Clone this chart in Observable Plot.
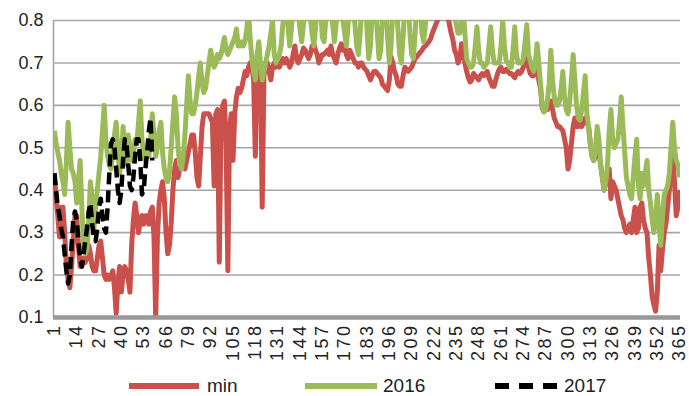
<!DOCTYPE html>
<html><head><meta charset="utf-8">
<script src="https://cdn.jsdelivr.net/npm/d3@7"></script>
<script src="https://cdn.jsdelivr.net/npm/@observablehq/plot@0.6"></script>
<style>
body{margin:0;background:#fff;font-family:"Liberation Sans",Arial,sans-serif;}
#chart{position:relative;width:689px;height:396px;overflow:hidden;background:#fff;}
#legend{position:absolute;left:0;top:374px;width:689px;height:24px;}
#legend .it{position:absolute;top:0;height:24px;display:flex;align-items:center;}
#legend .lab{position:absolute;top:0;line-height:24px;font-size:19px;color:#222;}
g[aria-label="x-axis tick label"] text{letter-spacing:2.5px;}
</style></head><body>
<div id="chart"><div id="legend"></div></div>
<script>
// Categories: day of year 1..365
const days = d3.range(1, 366);
const xTickLabels = [1,14,27,40,53,66,79,92,105,118,131,144,157,170,183,196,209,222,235,248,261,274,287,300,313,326,339,352,365];
const yTickLabels = [0.1,0.2,0.3,0.4,0.5,0.6,0.7,0.8];
const seriesNames = ["min","2016","2017"];
const seriesColors = ["#c9504b","#9bbb59","#000000"];

const minValues = [
0.44,0.38,0.34,0.29,0.36,0.36,0.30,0.22,0.19,0.17,
0.22,0.28,0.34,0.34,0.27,0.22,0.22,0.24,0.23,0.24,
0.27,0.25,0.22,0.21,0.21,0.24,0.27,0.28,0.24,0.20,
0.19,0.20,0.19,0.20,0.21,0.17,0.11,0.18,0.22,0.16,
0.20,0.22,0.21,0.19,0.16,0.27,0.33,0.37,0.34,0.30,
0.33,0.34,0.32,0.34,0.34,0.32,0.35,0.36,0.29,0.10,
0.29,0.37,0.40,0.42,0.38,0.30,0.25,0.27,0.32,0.40,
0.45,0.47,0.43,0.45,0.46,0.47,0.45,0.47,0.49,0.51,
0.53,0.53,0.49,0.43,0.41,0.48,0.55,0.58,0.58,0.58,
0.58,0.57,0.56,0.41,0.58,0.59,0.23,0.55,0.60,0.61,
0.50,0.21,0.55,0.58,0.47,0.58,0.62,0.64,0.63,0.64,
0.66,0.68,0.67,0.69,0.70,0.69,0.66,0.48,0.69,0.70,
0.70,0.36,0.67,0.70,0.70,0.68,0.66,0.69,0.70,0.69,
0.70,0.69,0.70,0.71,0.70,0.71,0.70,0.69,0.70,0.72,
0.74,0.71,0.70,0.71,0.72,0.735,0.73,0.72,0.71,0.72,
0.74,0.745,0.73,0.72,0.70,0.71,0.72,0.72,0.725,0.73,
0.72,0.74,0.72,0.71,0.70,0.72,0.735,0.745,0.73,0.74,
0.72,0.71,0.73,0.72,0.71,0.70,0.70,0.69,0.70,0.70,
0.69,0.685,0.68,0.67,0.66,0.67,0.68,0.68,0.675,0.67,
0.665,0.65,0.645,0.64,0.635,0.66,0.715,0.70,0.68,0.67,
0.65,0.645,0.645,0.67,0.69,0.685,0.68,0.685,0.69,0.70,
0.71,0.715,0.72,0.725,0.73,0.737,0.74,0.745,0.75,0.757,
0.77,0.78,0.79,0.80,0.84,0.85,0.85,0.84,0.83,0.81,
0.79,0.77,0.755,0.73,0.72,0.70,0.71,0.745,0.74,0.70,
0.68,0.665,0.655,0.66,0.675,0.67,0.665,0.66,0.67,0.675,
0.67,0.675,0.68,0.665,0.655,0.645,0.645,0.66,0.675,0.685,
0.69,0.68,0.68,0.685,0.68,0.675,0.675,0.67,0.665,0.675,
0.68,0.675,0.68,0.69,0.70,0.71,0.69,0.675,0.67,0.67,
0.68,0.69,0.66,0.64,0.595,0.585,0.59,0.59,0.60,0.61,
0.59,0.57,0.56,0.55,0.55,0.545,0.54,0.52,0.50,0.45,
0.47,0.51,0.55,0.57,0.55,0.55,0.56,0.55,0.56,0.57,
0.56,0.55,0.51,0.48,0.47,0.48,0.50,0.49,0.46,0.43,
0.40,0.42,0.44,0.45,0.38,0.42,0.41,0.40,0.38,0.36,
0.34,0.33,0.31,0.30,0.31,0.32,0.30,0.33,0.36,0.30,
0.31,0.36,0.37,0.33,0.31,0.30,0.24,0.20,0.15,0.13,
0.115,0.16,0.27,0.21,0.26,0.30,0.32,0.36,0.40,0.45,
0.49,0.42,0.34,0.36,0.40];

const values2016 = [
0.54,0.51,0.49,0.47,0.44,0.42,0.39,0.47,0.56,0.50,
0.45,0.44,0.42,0.37,0.42,0.47,0.36,0.27,0.25,0.26,
0.33,0.42,0.38,0.31,0.36,0.40,0.44,0.48,0.54,0.60,
0.52,0.48,0.46,0.45,0.49,0.53,0.56,0.49,0.44,0.47,
0.55,0.50,0.46,0.53,0.50,0.47,0.49,0.52,0.51,0.56,
0.61,0.52,0.48,0.47,0.49,0.48,0.52,0.58,0.53,0.48,
0.50,0.54,0.56,0.49,0.45,0.43,0.42,0.44,0.50,0.56,
0.62,0.58,0.50,0.46,0.45,0.48,0.53,0.60,0.67,0.61,
0.58,0.58,0.60,0.63,0.67,0.70,0.65,0.63,0.64,0.67,
0.70,0.73,0.71,0.69,0.70,0.72,0.71,0.72,0.74,0.76,
0.73,0.72,0.73,0.74,0.75,0.76,0.78,0.74,0.74,0.75,
0.74,0.75,0.78,0.82,0.76,0.71,0.68,0.66,0.72,0.75,
0.70,0.66,0.68,0.70,0.72,0.74,0.77,0.80,0.72,0.70,
0.71,0.72,0.74,0.79,0.82,0.84,0.79,0.74,0.78,0.84,
0.86,0.85,0.82,0.78,0.75,0.79,0.84,0.86,0.85,0.81,
0.77,0.74,0.78,0.84,0.86,0.83,0.76,0.75,0.80,0.85,
0.86,0.84,0.79,0.75,0.79,0.84,0.86,0.85,0.80,0.77,
0.74,0.79,0.85,0.86,0.84,0.79,0.74,0.72,0.77,0.84,
0.86,0.84,0.78,0.71,0.74,0.82,0.86,0.84,0.77,0.71,
0.73,0.81,0.86,0.84,0.76,0.70,0.74,0.82,0.86,0.84,
0.78,0.72,0.70,0.76,0.84,0.86,0.84,0.77,0.72,0.71,
0.77,0.84,0.86,0.83,0.77,0.75,0.79,0.84,0.86,0.85,
0.83,0.84,0.86,0.87,0.88,0.88,0.88,0.87,0.87,0.86,
0.85,0.84,0.83,0.81,0.79,0.77,0.77,0.80,0.82,0.77,
0.71,0.70,0.69,0.69,0.70,0.74,0.785,0.73,0.70,0.70,
0.69,0.695,0.70,0.74,0.785,0.73,0.70,0.70,0.70,0.70,
0.74,0.80,0.74,0.705,0.70,0.69,0.69,0.73,0.785,0.72,
0.70,0.70,0.70,0.71,0.75,0.79,0.72,0.705,0.69,0.68,
0.70,0.745,0.70,0.65,0.60,0.585,0.59,0.61,0.65,0.73,
0.66,0.62,0.60,0.60,0.61,0.64,0.68,0.62,0.59,0.58,
0.61,0.66,0.72,0.66,0.60,0.57,0.565,0.59,0.63,0.67,
0.58,0.55,0.51,0.48,0.47,0.50,0.55,0.52,0.46,0.43,
0.40,0.42,0.46,0.54,0.59,0.52,0.50,0.51,0.52,0.56,
0.62,0.55,0.49,0.43,0.41,0.39,0.38,0.43,0.48,0.52,
0.41,0.38,0.44,0.41,0.44,0.47,0.40,0.37,0.33,0.30,
0.33,0.39,0.32,0.27,0.34,0.39,0.40,0.41,0.44,0.50,
0.56,0.50,0.47,0.46,0.43];

const values2017 = [
0.44,0.40,0.36,0.34,0.31,0.29,0.25,0.21,0.18,0.20,
0.27,0.33,0.35,0.33,0.28,0.24,0.22,0.25,0.28,0.31,
0.35,0.37,0.32,0.29,0.28,0.31,0.36,0.38,0.34,0.31,
0.30,0.36,0.44,0.51,0.52,0.50,0.45,0.40,0.37,0.40,
0.47,0.52,0.51,0.46,0.41,0.40,0.43,0.48,0.52,0.52,
0.47,0.39,0.40,0.45,0.49,0.54,0.57,0.47];

const seriesValues = [minValues, values2016, values2017];
const rows = seriesValues.map((vals, i) => vals.map((v, j) => ({day: days[j], value: v, series: seriesNames[i]})));

const lineStyles = [
  {stroke: seriesColors[0], strokeWidth: 5},
  {stroke: seriesColors[1], strokeWidth: 5},
  {stroke: seriesColors[2], strokeWidth: 4.5, strokeDasharray: "12,6"}
];

const plot = Plot.plot({
  width: 689, height: 372,
  marginLeft: 53, marginRight: 9, marginTop: 20, marginBottom: 55,
  style: {fontFamily: "'Liberation Sans', Arial, sans-serif", color: "#222", background: "#fff", overflow: "visible"},
  x: {domain: [0.5, 365.5]},
  y: {domain: [0.1, 0.8]},
  marks: [
    Plot.ruleY(yTickLabels.filter(v => v > 0.1), {stroke: "#a6a6a6", strokeWidth: 1.6}),
    Plot.ruleX([0.5], {stroke: "#a6a6a6", strokeWidth: 1.6}),
    ...rows.map((r, i) => Plot.line(r, {x: "day", y: "value", ...lineStyles[i], strokeLinejoin: "round", strokeLinecap: "butt", clip: true})),
    Plot.ruleY([0.1], {stroke: "#999999", strokeWidth: 4.5}),
    Plot.axisY({ticks: yTickLabels, tickFormat: d => d.toFixed(1), tickSize: 0, tickPadding: 10, fontSize: 18, label: null}),
    Plot.axisX({ticks: xTickLabels, tickFormat: d => String(d), tickRotate: -90, tickSize: 0, tickPadding: 6, fontSize: 18, label: null})
  ]
});
document.getElementById("chart").prepend(plot);

// Legend (HTML, below the SVG)
const legend = document.getElementById("legend");
const legendItems = [
  {x: 129, w: 70, labelX: 207},
  {x: 305, w: 72, labelX: 383},
  {x: 495, w: 62, labelX: 564}
];
legendItems.forEach((it, i) => {
  const sw = document.createElement("div");
  sw.className = "it";
  sw.style.left = it.x + "px";
  const st = lineStyles[i];
  sw.innerHTML = `<svg width="${it.w}" height="24"><line x1="0" y1="12" x2="${it.w}" y2="12" stroke="${st.stroke}" stroke-width="6" ${st.strokeDasharray ? 'stroke-dasharray="14,10"' : ''}/></svg>`;
  legend.appendChild(sw);
  const lab = document.createElement("div");
  lab.className = "lab";
  lab.style.left = it.labelX + "px";
  lab.textContent = seriesNames[i];
  legend.appendChild(lab);
});
</script>
</body></html>
